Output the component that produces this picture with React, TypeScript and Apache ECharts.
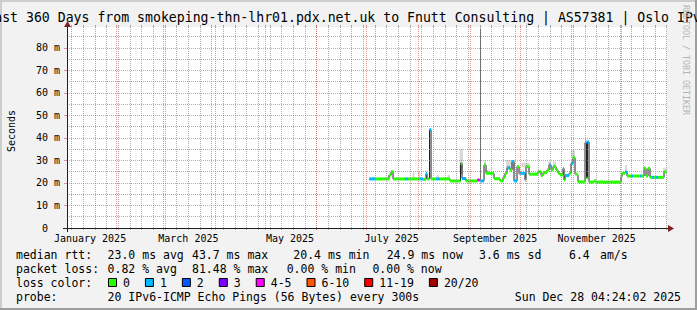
import React, { useEffect, useRef } from "react";
import * as echarts from "echarts";

const W = 697;
const H = 310;

// ---------- text ----------
const TITLE =
  "Last 360 Days from smokeping-thn-lhr01.pdx.net.uk to Fnutt Consulting | AS57381 | Oslo IPv6";
const Y_UNIT = "Seconds";
const WATERMARK = "RRDTOOL / TOBI OETIKER";

// ---------- axes (x in days of 2025, Jan 1 00:00 = 0) ----------
const X_START = 1.183; // Jan 2 04:24
const X_END = 361.183; // Dec 28 04:24
const Y_MAX = 89.3; // ms
const yMajor = [10, 20, 30, 40, 50, 60, 70, 80];
const yMinor = [5, 15, 25, 35, 45, 55, 65, 75, 85];
const yTickValues = [0, 10, 20, 30, 40, 50, 60, 70, 80];
const yTickLabels = ["0\u00a0\u00a0", "10 m", "20 m", "30 m", "40 m", "50 m", "60 m", "70 m", "80 m"];
const monthStarts = [31, 59, 90, 120, 151, 181, 212, 243, 273, 304, 334];
const FIRST_SUNDAY = 4; // Jan 5
const monthLabelDays = [15, 74, 135, 196, 258, 319];
const monthLabels = ["January 2025", "March 2025", "May 2025", "July 2025", "September 2025", "November 2025"];

// ---------- median rtt (step data: value holds from day until next day) ----------
const medDay = [
  182.4, 186.0, 194.4, 195.6, 196.8, 204.0, 205.8, 213.0, 214.8, 216.6, 217.2, 218.7, 219.6, 222.6,
  225.0, 231.0, 237.3, 238.2, 240.6, 247.2, 249.0, 251.4, 252.6, 257.4, 261.0, 262.8, 264.0, 265.2,
  267.0, 268.2, 269.4, 271.2, 272.4, 276.0, 276.6, 278.4, 283.8, 285.6, 286.8, 289.2, 290.4, 291.6,
  292.8, 294.6, 295.8, 297.0, 298.8, 299.4, 300.0, 302.4, 303.6, 304.8, 306.0, 307.2, 307.8, 312.0,
  312.9, 313.5, 314.4, 317.4, 318.6, 333.6, 334.2, 336.0, 337.2, 339.6, 340.8, 345.0, 346.2, 347.4,
  348.6, 349.8, 351.0, 352.2, 353.4, 354.6, 355.8, 359.4,
];
const medMs = [
  21.8, 21.8, 23.5, 25.0, 21.8, 21.8, 21.8, 21.8, 21.6, 24.2, 21.8, 43.7, 21.8, 21.8,
  21.8, 20.9, 28.7, 22.0, 20.9, 21.3, 20.9, 28.0, 24.3, 21.9, 21.0, 22.5, 24.3, 26.8,
  25.8, 29.5, 20.9, 27.3, 24.3, 21.3, 27.3, 23.9, 25.0, 23.3, 24.6, 25.8, 28.0, 25.8,
  27.3, 25.8, 24.4, 23.6, 26.5, 21.3, 23.3, 24.3, 28.7, 31.3, 24.0, 23.6, 20.5, 37.9,
  22.2, 38.2, 20.4, 20.9, 20.4, 22.8, 24.3, 24.9, 23.1, 23.1, 23.1, 23.1, 23.1, 26.5,
  23.1, 26.5, 22.5, 22.5, 22.5, 22.5, 22.5, 24.9,
];
const medLoss = [
  1, 0, 0, 0, 0, 1, 0, 1, 0, 1, 0, 1, 0, 1,
  0, 0, 0, 1, 0, 4, 1, 0, 0, 0, 0, 0, 0, 1,
  0, 1, 1, 0, 1, 0, 0, 0, 0, 0, 0, 0, 1, 0,
  0, 0, 0, 0, 0, 0, 1, 0, 1, 0, 0, 0, 0, 1,
  0, 1, 0, 0, 0, 0, 0, 1, 0, 1, 0, 1, 0, 0,
  0, 0, 0, 1, 0, 1, 0, 0,
];
const MED_END = 360.9;

// ---------- smoke: [dayFrom, dayTo, lowMs, highMs, shade] ----------
const smoke = [
  [208.5, 209.7, 21.8, 24.9, 0],
  [211.8, 213.0, 21.8, 24.9, 0],
  [216.3, 217.2, 24.0, 25.5, 0],
  [222.9, 224.4, 21.8, 23.5, 0],
  [229.5, 231.0, 21.8, 23.5, 0],
  [236.7, 238.8, 28.7, 35.1, 0],
  [236.9, 238.5, 24.0, 29.0, 1],
  [249.0, 249.6, 21.0, 88.6, 2],
  [251.4, 252.6, 28.0, 30.0, 0],
  [252.6, 254.4, 24.3, 26.0, 0],
  [264.6, 270.0, 26.0, 30.2, 0],
  [273.8, 278.8, 27.0, 29.0, 0],
  [289.8, 291.6, 28.0, 29.5, 0],
  [292.8, 294.6, 27.3, 29.5, 0],
  [303.6, 306.0, 31.3, 34.7, 0],
  [312.0, 314.4, 38.0, 39.2, 0],
  [336.0, 337.2, 24.9, 28.0, 0],
  [346.8, 348.0, 26.5, 27.5, 0],
  [358.8, 360.9, 24.9, 26.8, 0],
];

// ---------- legend ----------
const rowLabels = ["median rtt:", "packet loss:", "loss color:", "probe:"];
const rttStats = ["23.0 ms avg", "43.7 ms max", "20.4 ms min", "24.9 ms now", "3.6 ms sd", "6.4", "am/s"];
const lossStats = ["0.82 % avg", "81.48 % max", "0.00 % min", "0.00 % now"];
const lossLegend = ["0", "1", "2", "3", "4-5", "6-10", "11-19", "20/20"];
const lossColors = ["#26ff00", "#00b8ff", "#0059ff", "#7e00ff", "#ff00ff", "#ff5500", "#ff0000", "#a00000"];
const probeText = "20 IPv6-ICMP Echo Pings (56 Bytes) every 300s";
const dateText = "Sun Dec 28 04:24:02 2025";

// ---------- style / layout ----------
const FONT = "DejaVu Sans Mono";
const BG = "#f2f2f2";
const MINOR = "rgba(143,143,143,0.75)";
const MAJOR = "rgba(222,79,79,0.6)";
const AXIS = "#1f1f1f";
const ARROW = "#801f1f";
const smokeShades = ["#d9d9d9", "#a8a8a8", "#5e5e5e"];
const G_LEFT = 67;
const G_TOP = 27;
const G_W = 600;
const G_H = 201;
const rttX = [107.6, 192, 293.3, 386.7, 479, 569, 600];
const lossX = [107.6, 192, 286.7, 372.4];
const rowY = [254.5, 268.5, 282.5, 296.5];
const LEG_FS = 11.5;
const CHAR_W = 6.93;

function buildOption() {
  const weekDays: number[] = [];
  for (let d = FIRST_SUNDAY; d < X_END; d += 7) weekDays.push(d);

  const minorStyle = { color: MINOR, type: [1, 1], width: 1 };
  const majorStyle = { color: MAJOR, type: [1, 1], width: 1 };
  const gridLines = [
    ...weekDays.map((d) => ({ xAxis: d, lineStyle: minorStyle })),
    ...yMinor.map((v) => ({ yAxis: v, lineStyle: minorStyle })),
    ...monthStarts.map((d) => ({ xAxis: d, lineStyle: majorStyle })),
    ...yMajor.map((v) => ({ yAxis: v, lineStyle: majorStyle })),
  ];

  const lineData = medDay.map((d, i) => [d, medMs[i]]);
  lineData.push([MED_END, medMs[medMs.length - 1]]);
  const bandData = medDay.map((d, i) => [d, medMs[i], medLoss[i], i + 1 < medDay.length ? medDay[i + 1] : MED_END]);

  const graphics: any[] = [];
  // frame shades
  graphics.push({ type: "rect", shape: { x: 0, y: 0, width: W, height: 2 }, style: { fill: "#cecece" }, silent: true });
  graphics.push({ type: "rect", shape: { x: 0, y: 0, width: 2, height: H }, style: { fill: "#cecece" }, silent: true });
  graphics.push({ type: "rect", shape: { x: W - 2, y: 0, width: 2, height: H }, style: { fill: "#9e9e9e" }, silent: true });
  graphics.push({ type: "rect", shape: { x: 0, y: H - 2, width: W, height: 2 }, style: { fill: "#9e9e9e" }, silent: true });
  // title (wider than the image, clipped on both sides as in the original)
  graphics.push({
    type: "text", x: 347.5, y: 17, silent: true,
    style: { text: TITLE, fill: "#000", font: `13.2px "${FONT}"`, textAlign: "center", textVerticalAlign: "middle" },
  });
  // watermark
  graphics.push({
    type: "text", x: 686, y: 60, rotation: -Math.PI / 2, silent: true,
    style: { text: WATERMARK, fill: "#b4b4b4", font: `8.3px "${FONT}"`, textAlign: "center", textVerticalAlign: "middle" },
  });
  // unit
  graphics.push({
    type: "text", x: 11, y: 131, rotation: Math.PI / 2, silent: true,
    style: { text: Y_UNIT, fill: "#000", font: `10px "${FONT}"`, textAlign: "center", textVerticalAlign: "middle" },
  });
  // axes lines & arrows
  graphics.push({ type: "line", silent: true, z: 50, shape: { x1: 63, y1: 228.5, x2: 669, y2: 228.5 }, style: { stroke: AXIS, lineWidth: 1 } });
  graphics.push({ type: "line", silent: true, z: 50, shape: { x1: 67.5, y1: 232, x2: 67.5, y2: 26 }, style: { stroke: AXIS, lineWidth: 1 } });
  graphics.push({ type: "polygon", silent: true, z: 50, shape: { points: [[668, 225], [668, 232], [674, 228.5]] }, style: { fill: ARROW } });
  graphics.push({ type: "polygon", silent: true, z: 50, shape: { points: [[64, 27], [71, 27], [67.5, 21]] }, style: { fill: ARROW } });

  const txt = (x: number, y: number, s: string, align = "left") => ({
    type: "text", x, y, silent: true,
    style: { text: s, fill: "#000", font: `${LEG_FS}px "${FONT}"`, textAlign: align, textVerticalAlign: "middle" },
  });
  rowLabels.forEach((s, i) => graphics.push(txt(16, rowY[i], s)));
  rttStats.forEach((s, i) => graphics.push(txt(rttX[i], rowY[0], s)));
  lossStats.forEach((s, i) => graphics.push(txt(lossX[i], rowY[1], s)));
  let bx = 108;
  lossLegend.forEach((s, i) => {
    graphics.push({
      type: "rect", silent: true,
      shape: { x: bx + 0.5, y: rowY[2] - 4, width: 8, height: 8 },
      style: { fill: lossColors[i], stroke: "#000", lineWidth: 1 },
    });
    graphics.push(txt(bx + 15, rowY[2], s));
    bx = bx + 15 + s.length * CHAR_W + 15;
  });
  graphics.push(txt(107.6, rowY[3], probeText));
  graphics.push(txt(681, rowY[3], dateText, "right"));

  const baseX = {
    type: "value", min: X_START, max: X_END, gridIndex: 0,
    axisLine: { show: false }, splitLine: { show: false },
  };

  return {
    animation: false,
    backgroundColor: BG,
    textStyle: { fontFamily: FONT },
    grid: {
      left: G_LEFT, top: G_TOP, width: G_W, height: G_H,
      show: true, backgroundColor: "#ffffff", borderWidth: 0,
      outerBoundsMode: "none", containLabel: false,
    },
    xAxis: [
      {
        ...baseX, position: "bottom",
        axisTick: { show: true, customValues: weekDays, length: 2, lineStyle: { color: MINOR } },
        axisLabel: {
          show: true, customValues: monthLabelDays, margin: 5, color: "#000",
          fontFamily: FONT, fontSize: 10, hideOverlap: false,
          formatter: (v: number) => {
            const k = monthLabelDays.findIndex((d) => Math.abs(d - v) < 0.01);
            return k >= 0 ? monthLabels[k] : "";
          },
        },
      },
      {
        ...baseX, position: "bottom",
        axisTick: { show: true, customValues: monthStarts, length: 2, lineStyle: { color: MAJOR } },
        axisLabel: { show: false },
      },
      {
        ...baseX, position: "top",
        axisTick: { show: true, customValues: weekDays, length: 2, lineStyle: { color: MINOR } },
        axisLabel: { show: false },
      },
      {
        ...baseX, position: "top",
        axisTick: { show: true, customValues: monthStarts, length: 2, lineStyle: { color: MAJOR } },
        axisLabel: { show: false },
      },
    ],
    yAxis: [
      {
        type: "value", min: 0, max: Y_MAX, gridIndex: 0,
        axisLine: { show: false }, splitLine: { show: false },
        axisTick: { show: true, customValues: yMajor, length: 3, lineStyle: { color: MAJOR } },
        axisLabel: {
          show: true, customValues: yTickValues, margin: 7, color: "#000",
          fontFamily: FONT, fontSize: 10,
          formatter: (v: number) => {
            const k = yTickValues.findIndex((t) => Math.abs(t - v) < 0.01);
            return k >= 0 ? yTickLabels[k] : "";
          },
        },
      },
    ],
    series: [
      {
        type: "line", name: "grid", data: [], z: 1, silent: true,
        xAxisIndex: 0, yAxisIndex: 0,
        markLine: {
          silent: true, symbol: ["none", "none"], label: { show: false },
          emphasis: { disabled: true }, animation: false, data: gridLines,
        },
      },
      {
        type: "custom", name: "smoke", z: 2, silent: true, xAxisIndex: 0, yAxisIndex: 0,
        data: smoke,
        encode: { x: [0, 1], y: [2, 3] },
        renderItem: (_p: any, api: any) => {
          const a = api.coord([api.value(0), api.value(3)]);
          const b = api.coord([api.value(1), api.value(2)]);
          return {
            type: "rect",
            shape: { x: a[0], y: a[1], width: Math.max(1, b[0] - a[0]), height: b[1] - a[1] },
            style: { fill: smokeShades[api.value(4)] },
          };
        },
      },
      {
        type: "line", name: "median", z: 3, silent: true, xAxisIndex: 0, yAxisIndex: 0,
        data: lineData, step: "end", symbol: "none",
        lineStyle: { color: "#202020", width: 1 },
      },
      {
        type: "custom", name: "loss", z: 4, silent: true, xAxisIndex: 0, yAxisIndex: 0,
        data: bandData,
        encode: { x: [0, 3], y: 1 },
        renderItem: (_p: any, api: any) => {
          const a = api.coord([api.value(0), api.value(1)]);
          const b = api.coord([api.value(3), api.value(1)]);
          return {
            type: "rect",
            shape: { x: a[0], y: a[1] - 1.5, width: Math.max(1, b[0] - a[0]), height: 3 },
            style: { fill: lossColors[api.value(2)] },
          };
        },
      },
    ],
    graphic: graphics,
  };
}

export default function App() {
  const ref = useRef<HTMLDivElement>(null);
  useEffect(() => {
    if (!ref.current) return;
    const chart = echarts.init(ref.current, undefined, { renderer: "svg", width: W, height: H });
    chart.setOption(buildOption() as any);
    return () => chart.dispose();
  }, []);
  return <div ref={ref} style={{ position: "absolute", left: 0, top: 0, width: W, height: H }} />;
}
